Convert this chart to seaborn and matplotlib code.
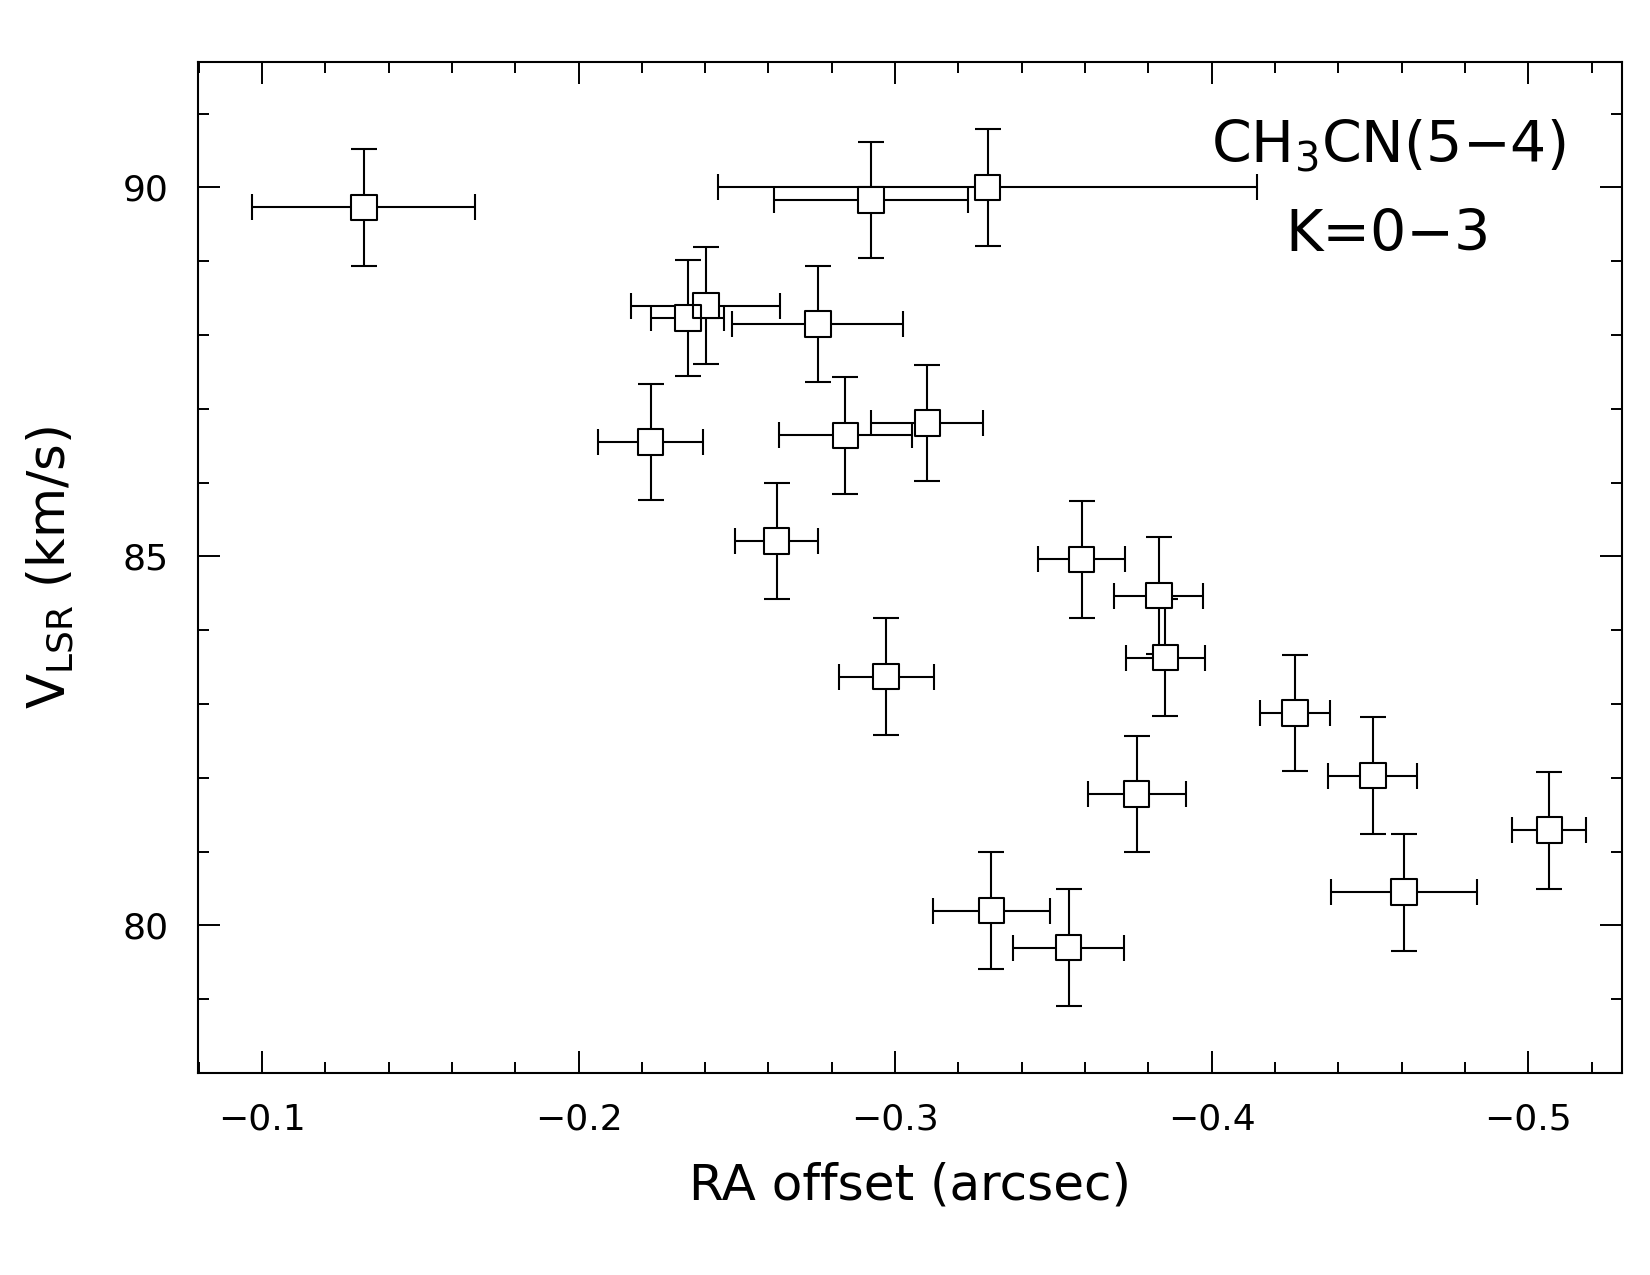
import matplotlib
matplotlib.use("Agg")
import matplotlib.pyplot as plt
from matplotlib.ticker import MultipleLocator, FuncFormatter
import pandas as pd
import seaborn as sns

# offsets (arcsec) and LSR velocities (km/s) with their errors
ra_offset = [-0.1322, -0.2345, -0.2402, -0.2756, -0.2924, -0.3292, -0.2228,
             -0.2843, -0.3102, -0.2626, -0.2972, -0.3589, -0.3833, -0.3854,
             -0.4263, -0.4509, -0.3763, -0.5067, -0.4607, -0.3304, -0.3548]
ra_err = [0.0352, 0.0115, 0.0235, 0.0270, 0.0306, 0.0850, 0.0166,
          0.0210, 0.0177, 0.0132, 0.0150, 0.0137, 0.0140, 0.0124,
          0.0110, 0.0140, 0.0155, 0.0117, 0.0230, 0.0184, 0.0176]
v_lsr = [89.73, 88.23, 88.40, 88.15, 89.83, 90.00, 86.55,
         86.64, 86.81, 85.21, 83.37, 84.96, 84.47, 83.63,
         82.88, 82.03, 81.78, 81.29, 80.45, 80.20, 79.70]
v_err = [0.79] * len(v_lsr)

x_ticks = [-0.1, -0.2, -0.3, -0.4, -0.5]
y_ticks = [80, 85, 90]

df = pd.DataFrame({"ra": ra_offset, "v": v_lsr})

sns.set_theme(style="ticks")
plt.rcParams["font.family"] = ["DejaVu Sans"]
plt.rcParams["mathtext.fontset"] = "dejavusans"
plt.rcParams["text.color"] = "black"
plt.rcParams["axes.labelcolor"] = "black"

fig = plt.figure(figsize=(16.5, 12.75), dpi=100)
ax = fig.add_axes([0.12, 0.1584, 0.863, 0.793])

lw = 1.5
ax.errorbar(ra_offset, v_lsr, xerr=ra_err, yerr=v_err, fmt="none",
            ecolor="black", elinewidth=lw, capsize=9.7, capthick=lw, zorder=2)

# white fill hides the bars inside the boxes, then outlines on top
sns.scatterplot(data=df, x="ra", y="v", marker="s", s=338, color="white",
                linewidth=0, ax=ax, zorder=3)
sns.scatterplot(data=df, x="ra", y="v", marker="s", s=338, facecolor="none",
                edgecolor="black", linewidth=lw, ax=ax, zorder=4)

ax.set_xlim(-0.0798, -0.5296)
ax.set_ylim(78.0, 91.7)

ax.set_xticks(x_ticks)
ax.set_yticks(y_ticks)
ax.xaxis.set_minor_locator(MultipleLocator(0.02))
ax.yaxis.set_minor_locator(MultipleLocator(1))
ax.xaxis.set_major_formatter(FuncFormatter(lambda v, p: f"{v:.1f}".replace("-", "\u2212")))
ax.yaxis.set_major_formatter(FuncFormatter(lambda v, p: f"{v:.0f}"))

ax.tick_params(which="both", direction="in", top=True, right=True,
               width=1.4, colors="black", labelsize=26, pad=21)
ax.tick_params(which="major", length=16)
ax.tick_params(which="minor", length=8)
for sp in ax.spines.values():
    sp.set_linewidth(1.5)
    sp.set_color("black")

ax.set_xlabel("RA offset (arcsec)", fontsize=36, color="black")
ax.set_ylabel(r"V$_{\rm LSR}$ (km/s)", fontsize=37, color="black")
ax.xaxis.set_label_coords(0.5, -0.087)
ax.xaxis.label.set_va("top")
ax.yaxis.set_label_coords(-0.0857, 0.5)

ax.text(0.836, 0.916, "CH$_3$CN(5\u22124)", transform=ax.transAxes,
        ha="center", va="center", fontsize=41, color="black")
ax.text(0.836, 0.828, "K=0\u22123", transform=ax.transAxes,
        ha="center", va="center", fontsize=41, color="black")

fig.savefig("out.png", dpi=100, facecolor="white")
